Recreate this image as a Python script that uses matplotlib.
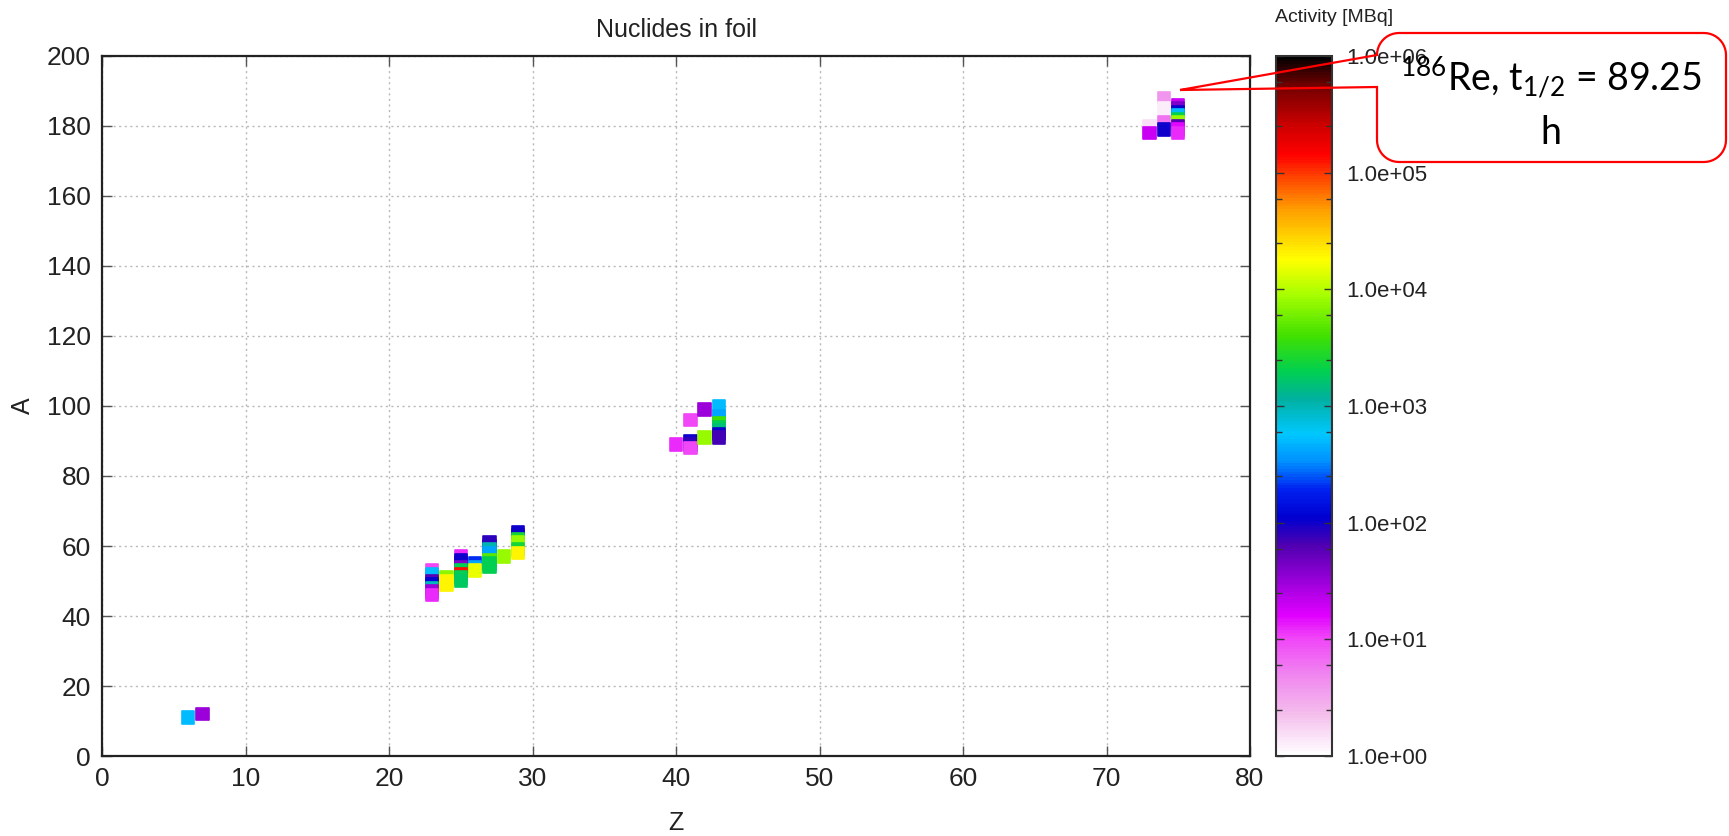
import numpy as np
import matplotlib
matplotlib.use('Agg')
import matplotlib.pyplot as plt
from matplotlib.colors import LinearSegmentedColormap, LogNorm
from matplotlib.ticker import FuncFormatter, LogLocator
from matplotlib.path import Path
from matplotlib.patches import PathPatch

plt.rcParams['font.family'] = ['Liberation Sans', 'DejaVu Sans']
plt.rcParams['mathtext.fontset'] = 'custom'
plt.rcParams['mathtext.rm'] = 'Lato'
plt.rcParams['mathtext.it'] = 'Lato:italic'
plt.rcParams['mathtext.bf'] = 'Lato:bold'

# nuklidy: liczba atomowa Z, liczba masowa A, aktywnosc [MBq]
Z = [6, 7,
     23, 23, 23, 23, 23, 23, 23, 23,
     24, 24, 24,
     25, 25, 25, 25, 25, 25, 25, 25,
     26, 26, 26,
     27, 27, 27, 27, 27, 27, 27, 27,
     28,
     29, 29, 29, 29, 29, 29, 29,
     40,
     41, 41, 41, 41,
     42, 42,
     43, 43, 43, 43, 43, 43, 43, 43,
     73, 73,
     74, 74, 74, 74,
     75, 75, 75, 75, 75, 75, 75, 75, 75]
A = [11, 12,
     53, 52, 51, 50, 49, 48, 47, 46,
     51, 50, 49,
     57, 56, 55, 54, 53, 52, 51, 50,
     55, 54, 53,
     61, 60, 59, 58, 57, 56, 55, 54,
     57,
     64, 63, 62, 61, 60, 59, 58,
     89,
     96, 90, 89, 88,
     99, 91,
     100, 97, 96, 95, 94, 93, 92, 91,
     180, 178,
     188, 185, 181, 179,
     186, 185, 184, 183, 182, 181, 180, 179, 178]
aktywnosc = [500, 30,
             10, 500, 500, 60, 120, 900, 30, 12,
             7000, 20000, 20000,
             12, 100, 100, 40, 2000, 1.3e5, 2000, 1800,
             200, 400, 15000,
             80, 80, 1000, 400, 400, 5000, 2000, 2000,
             8000,
             100, 100, 2500, 8000, 8000, 2500, 20000,
             12,
             10, 100, 80, 10,
             30, 8000,
             500, 400, 400, 4000, 2000, 1500, 100, 70,
             1.5, 20,
             4, 1.3, 6, 100,
             20, 40, 100, 500, 2000, 8000, 60, 15, 12]

cb_ticks = [1e0, 1e1, 1e2, 1e3, 1e4, 1e5, 1e6]

# paleta w stylu gnuplota
stops = [(0.00, '#ffffff'), (0.06, '#f4bcec'), (0.12, '#f080f0'),
         (0.17, '#f040f8'), (0.20, '#e000ff'), (0.25, '#9800d8'),
         (0.30, '#5000b0'), (0.34, '#0000d0'), (0.38, '#0020f0'),
         (0.42, '#0090ff'), (0.46, '#00c8ff'), (0.51, '#00b0a0'),
         (0.55, '#00d050'), (0.60, '#40e000'), (0.66, '#a8ff00'),
         (0.71, '#ffff00'), (0.78, '#ffa000'), (0.83, '#ff4000'),
         (0.86, '#ff0000'), (0.90, '#d00000'), (0.96, '#700000'),
         (1.00, '#000000')]
paleta = LinearSegmentedColormap.from_list('paleta', stops)

W, H = 1729, 836
fig = plt.figure(figsize=(W / 100, H / 100), dpi=100)
ax = fig.add_axes([102 / W, 1 - 756 / H, 1148 / W, 700 / H])
cax = fig.add_axes([1276 / W, 1 - 756 / H, 56 / W, 700 / H])

sc = ax.scatter(Z, A, c=aktywnosc, cmap=paleta, norm=LogNorm(1, 1e6),
                marker='s', s=80, linewidths=1.2, edgecolors='face', zorder=3)

ax.set_xlim(0, 80)
ax.set_ylim(0, 200)
ax.set_xticks(range(0, 81, 10))
ax.set_yticks(range(0, 201, 20))
ax.grid(True, linestyle=(0, (1.5, 2.5)), color='#b8b8b8', linewidth=1)
ax.tick_params(direction='in', top=True, right=True, length=7, width=1,
               labelsize=19, labelcolor='#222222', color='#555555', pad=8)
for s in ax.spines.values():
    s.set_linewidth(1.6)
    s.set_color('#222222')

ax.set_xlabel('Z', fontsize=18, color='#222222')
ax.set_ylabel('A', fontsize=18, color='#222222')
ax.xaxis.set_label_coords(0.5, -0.078)
ax.yaxis.set_label_coords(-0.058, 0.5)
fig.text(676 / W, 1 - 30 / H, 'Nuclides in foil', ha='center', va='center',
         fontsize=18, color='#222222')

cbar = fig.colorbar(sc, cax=cax)
cbar.set_ticks(cb_ticks)
cbar.ax.yaxis.set_major_formatter(FuncFormatter(lambda v, p: f'{v:.1e}'))
cbar.ax.yaxis.set_minor_locator(LogLocator(subs=(2.5, 6)))
cbar.ax.tick_params(which='both', direction='in', left=True, right=True,
                    labelsize=16, labelcolor='#222222', color='#333333', pad=10)
cbar.ax.tick_params(which='major', length=6, width=1)
cbar.ax.tick_params(which='minor', length=4, width=1)
cbar.outline.set_linewidth(1.5)
cbar.outline.set_edgecolor('#333333')
fig.text(1334 / W, 1 - 18 / H, 'Activity [MBq]', ha='center', va='center',
         fontsize=14, color='#222222')

# dymek z opisem
def luk(cx, cy, r, a0, a1):
    t = np.radians(np.linspace(a0, a1, 12))
    return list(zip(cx + r * np.cos(t), cy + r * np.sin(t)))

x0, x1, y0, y1, r = 1377, 1726, 33, 162, 22
pkt = [(1180, 90), (x0, 87), (x0, y1 - r)]
pkt += luk(x0 + r, y1 - r, r, 180, 90)
pkt += luk(x1 - r, y1 - r, r, 90, 0)
pkt += luk(x1 - r, y0 + r, r, 0, -90)
pkt += luk(x0 + r, y0 + r, r, -90, -180)
pkt += [(1180, 90)]
pkt = [(x / W, 1 - y / H) for x, y in pkt]
fig.add_artist(PathPatch(Path(pkt), fill=False, edgecolor='#ff0000',
                         linewidth=1.6, transform=fig.transFigure, zorder=10))
fig.text(1551 / W, 1 - 103 / H,
         r'$^{\mathrm{186}}$Re, t$_{\mathrm{1/2}}$ = 89.25' + '\nh',
         ha='center', va='center', fontsize=27, family=['Lato', 'DejaVu Sans'],
         linespacing=1.5, color='black', zorder=11)

fig.savefig('out.png', dpi=100)
